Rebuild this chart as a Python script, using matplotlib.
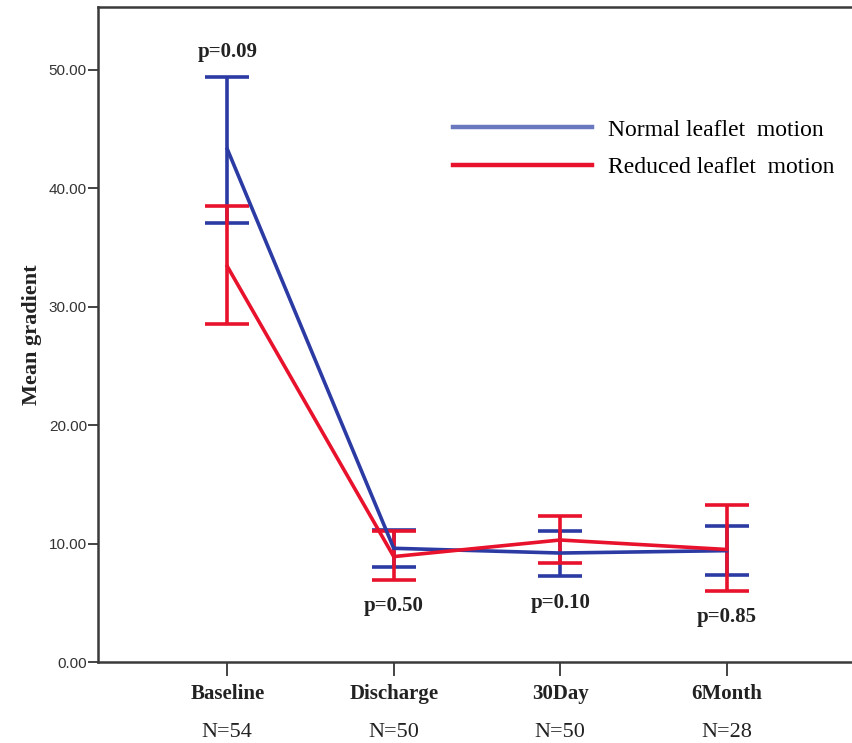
import matplotlib.pyplot as plt
from matplotlib.lines import Line2D
import numpy as np

# data
timepoints = ["Baseline", "Discharge", "30Day", "6Month"]
n_labels = ["N=54", "N=50", "N=50", "N=28"]
p_labels = ["p=0.09", "p=0.50", "p=0.10", "p=0.85"]
p_y = [51.5, 4.75, 5.0, 3.8]

normal_mean = [43.3, 9.6, 9.2, 9.4]
normal_low = [37.1, 8.0, 7.3, 7.35]
normal_high = [49.4, 11.15, 11.05, 11.45]

reduced_mean = [33.4, 8.9, 10.3, 9.5]
reduced_low = [28.5, 6.95, 8.35, 6.0]
reduced_high = [38.5, 11.1, 12.3, 13.25]

blue = "#2b3ba3"
red = "#e8122c"
serif = ["Liberation Serif", "DejaVu Serif"]
sans = ["Liberation Sans", "DejaVu Sans"]

fig = plt.figure(figsize=(8.53, 7.43), dpi=100)
ax = fig.add_axes([98 / 853, 1 - 662 / 743, 1 - 98 / 853 + 0.002, (662 - 7) / 743])

x = np.arange(1, len(timepoints) + 1)

def draw(mean, low, high, color):
    mean = np.array(mean)
    yerr = [mean - np.array(low), np.array(high) - mean]
    ax.errorbar(x, mean, yerr=yerr, color=color, lw=2.6, elinewidth=2.6,
                capsize=15.5, capthick=2.6)

draw(normal_mean, normal_low, normal_high, blue)
draw(reduced_mean, reduced_low, reduced_high, red)

for xi, txt, yy in zip(x, p_labels, p_y):
    ax.text(xi, yy, txt, ha="center", va="center", fontsize=15,
            fontweight="bold", family=serif, color="#222222")

ax.set_xlim(0.223, 4.77)
ax.set_ylim(0, 55.3)
ax.set_yticks([0, 10, 20, 30, 40, 50])
ax.set_yticklabels(["%.2f" % v for v in [0, 10, 20, 30, 40, 50]],
                   family=sans, fontsize=11, color="#333333")
ax.set_xticks(x)
ax.set_xticklabels(timepoints, family=serif, fontsize=15, fontweight="bold",
                   color="#222222")
ax.tick_params(axis="y", length=7, width=1.4, color="#444444", pad=1)
ax.tick_params(axis="x", length=10, width=1.4, color="#444444", pad=6)

for xi, n in zip(x, n_labels):
    ax.text(xi, -0.107, n, transform=ax.get_xaxis_transform(), ha="center",
            va="center", fontsize=16, family=serif, color="#222222")

ax.set_ylabel("Mean gradient", family=serif, fontsize=16, fontweight="bold",
              color="#222222", labelpad=5)

for s in ["left", "bottom", "top"]:
    ax.spines[s].set_linewidth(1.8)
    ax.spines[s].set_color("#3a3a3a")
ax.spines["right"].set_visible(False)

handles = [Line2D([], [], color="#6a78c0", lw=3.2),
           Line2D([], [], color=red, lw=3.2)]
ax.legend(handles, ["Normal leaflet  motion", "Reduced leaflet  motion"],
          loc="upper left", bbox_to_anchor=(0.469, 0.829), frameon=False,
          prop={"family": serif, "size": 17}, handlelength=5.9,
          handletextpad=0.65, labelspacing=0.69, borderpad=0,
          borderaxespad=0)

fig.savefig("out.png", dpi=100)
